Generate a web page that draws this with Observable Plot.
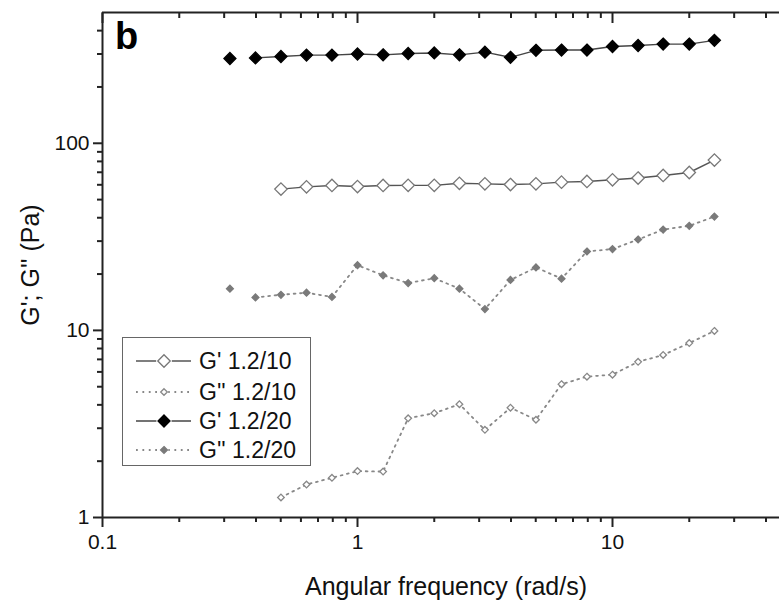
<!DOCTYPE html>
<html><head><meta charset="utf-8">
<script src="https://cdn.jsdelivr.net/npm/d3@7"></script>
<script src="https://cdn.jsdelivr.net/npm/@observablehq/plot@0.6"></script>
<style>
html,body{margin:0;padding:0;background:#fff;}
#wrap{position:relative;width:779px;height:601px;overflow:hidden;font-family:"Liberation Sans",Arial,sans-serif;}
#panel{position:absolute;left:115px;top:17px;font-size:38px;font-weight:bold;color:#000;line-height:1;}
#legend{position:absolute;left:122px;top:337px;width:187px;height:127px;border:1.5px solid #666;background:#fff;}
.row{position:absolute;left:0;height:30px;display:flex;align-items:center;}
.row span{font-size:23px;color:#111;margin-left:6px;white-space:nowrap;}
</style></head><body><div id="wrap"></div>
<script>
// angular frequency (rad/s), 10 points per decade
const freq = [0.316,0.398,0.501,0.631,0.794,1.0,1.26,1.58,2.0,2.51,3.16,3.98,5.01,6.31,7.94,10.0,12.6,15.8,20.0,25.1];
// G' 1.2/20 (Pa) – all 20 frequencies
const gp20 = [284,286,291,296,296,300,297,302,304,297,307,288,314,315,315,329,333,339,339,355];
// G'' 1.2/20 (Pa) – all 20 frequencies
const gpp20 = [16.7,15.0,15.5,15.9,15.1,22.3,19.7,17.9,19.0,16.7,13.0,18.6,21.7,18.9,26.4,27.2,30.6,34.6,36.2,40.6];
// G' 1.2/10 (Pa) – from freq[2]
const gp10 = [56.9,58.5,59.5,58.7,59.5,59.6,59.6,61.1,60.7,60.2,60.7,62.0,62.5,63.8,65.2,67.3,69.8,81.3];
// G'' 1.2/10 (Pa) – from freq[2]
const gpp10 = [1.28,1.50,1.63,1.77,1.76,3.39,3.61,4.03,2.94,3.86,3.33,5.16,5.66,5.80,6.79,7.39,8.55,9.94];

const seriesNames = ["G' 1.2/10", "G'' 1.2/10", "G' 1.2/20", "G'' 1.2/20"];
const xMajor = [0.1, 1, 10];
const xMinor = [0.2,0.3,0.4,0.5,0.6,0.7,0.8,0.9,2,3,4,5,6,7,8,9,20,30,40];
const yMajor = [1, 10, 100];
const yMinor = [2,3,4,5,6,7,8,9,20,30,40,50,60,70,80,90,200,300,400];

const styles = {
  "G' 1.2/10":  {values: gp10,  start: 2, joinFirst: true,  r: 5.6, fill: "#fff",   stroke: "#777", line: "#555", dash: null,  lw: 1.4},
  "G'' 1.2/10": {values: gpp10, start: 2, joinFirst: true,  r: 3.0, fill: "#fff",   stroke: "#888", line: "#888", dash: "1.8,4.6", lw: 1.8},
  "G' 1.2/20":  {values: gp20,  start: 0, joinFirst: false, r: 5.4, fill: "#000",   stroke: "#000", line: "#444", dash: null,  lw: 1.4},
  "G'' 1.2/20": {values: gpp20, start: 0, joinFirst: false, r: 3.1, fill: "#7a7a7a", stroke: "#7a7a7a", line: "#888", dash: "1.8,4.6", lw: 1.8}
};

const rows = seriesNames.flatMap(name => styles[name].values.map((v, i) => ({series: name, i, x: freq[i + styles[name].start], y: v})));

const xDomain = [0.1, Math.pow(10, 677/255 - 1)];
const yDomain = [1, 500];

const marks = [];
for (const name of seriesNames) {
  const s = styles[name];
  const data = rows.filter(d => d.series === name);
  const lineData = s.joinFirst ? data : data.slice(1);
  marks.push(Plot.line(lineData, {x: "x", y: "y", stroke: s.line, strokeWidth: s.lw, strokeDasharray: s.dash}));
}
for (const name of seriesNames) {
  const s = styles[name];
  const data = rows.filter(d => d.series === name);
  marks.push(Plot.dot(data, {x: "x", y: "y", symbol: "diamond2", r: s.r, fill: s.fill, stroke: s.stroke, strokeWidth: 1.3}));
}
const axisColor = "#222";
marks.push(
  Plot.ruleY([yDomain[1]], {stroke: axisColor, strokeWidth: 2}),
  Plot.ruleY([yDomain[0]], {stroke: axisColor, strokeWidth: 2}),
  Plot.ruleX([xDomain[0]], {stroke: axisColor, strokeWidth: 2}),
  Plot.axisX(xMajor, {anchor: "bottom", tickSize: 10, tickPadding: 7, strokeWidth: 2, stroke: axisColor, fontSize: 21, tickFormat: d3.format("~g"), label: "Angular frequency (rad/s)", labelAnchor: "center", labelOffset: 77, labelArrow: "none"}),
  Plot.axisX(xMinor, {anchor: "bottom", tickSize: 5, strokeWidth: 2, stroke: axisColor, tickFormat: () => "", label: null}),
  Plot.axisX(xMajor, {anchor: "top", tickSize: -10, strokeWidth: 2, stroke: axisColor, tickFormat: () => "", label: null}),
  Plot.axisX(xMinor, {anchor: "top", tickSize: -5, strokeWidth: 2, stroke: axisColor, tickFormat: () => "", label: null}),
  Plot.axisY(yMajor, {anchor: "left", tickSize: 9, tickPadding: 4, strokeWidth: 2, stroke: axisColor, fontSize: 21, tickFormat: d3.format("~g"), label: "G'; G'' (Pa)", labelAnchor: "center", labelOffset: 81, labelArrow: "none"}),
  Plot.axisY(yMinor, {anchor: "left", tickSize: 5, strokeWidth: 2, stroke: axisColor, tickFormat: () => "", label: null})
);

const chart = Plot.plot({
  width: 779, height: 601,
  marginLeft: 102, marginRight: 0, marginTop: 12, marginBottom: 84,
  x: {type: "log", domain: xDomain, axis: null},
  y: {type: "log", domain: yDomain, axis: null},
  style: {fontFamily: "'Liberation Sans', Arial, sans-serif", fontSize: "21px", color: "#111", background: "#fff", overflow: "visible"},
  marks
});
d3.select(chart).selectAll("[aria-label$='axis label'] text").attr("font-size", 25);
d3.select(chart).selectAll("[aria-label='x-axis label'] text").attr("dx", 5);

const wrap = document.getElementById("wrap");
wrap.appendChild(chart);

const panel = document.createElement("div");
panel.id = "panel"; panel.textContent = "b";
wrap.appendChild(panel);

// legend
const legend = d3.select(wrap).append("div").attr("id", "legend");
const rowTops = [8, 39, 68, 97];
seriesNames.forEach((name, k) => {
  const s = styles[name];
  const row = legend.append("div").attr("class", "row").style("top", rowTops[k] + "px");
  const svg = row.append("svg").attr("width", 70).attr("height", 30);
  svg.append("line").attr("x1", 13).attr("x2", 68).attr("y1", 15).attr("y2", 15)
    .attr("stroke", s.line).attr("stroke-width", s.lw).attr("stroke-dasharray", s.dash);
  const size = Math.PI * s.r * s.r;
  svg.append("rect").attr("x", 41 - s.r * 1.4).attr("y", 15 - s.r * 1.4).attr("width", s.r * 2.8).attr("height", s.r * 2.8).attr("fill", "#fff");
  svg.append("path").attr("d", d3.symbol(d3.symbolDiamond2, size)()).attr("transform", "translate(41,15)")
    .attr("fill", s.fill).attr("stroke", s.stroke).attr("stroke-width", 1.3);
  row.append("span").text(name);
});
</script></body></html>
